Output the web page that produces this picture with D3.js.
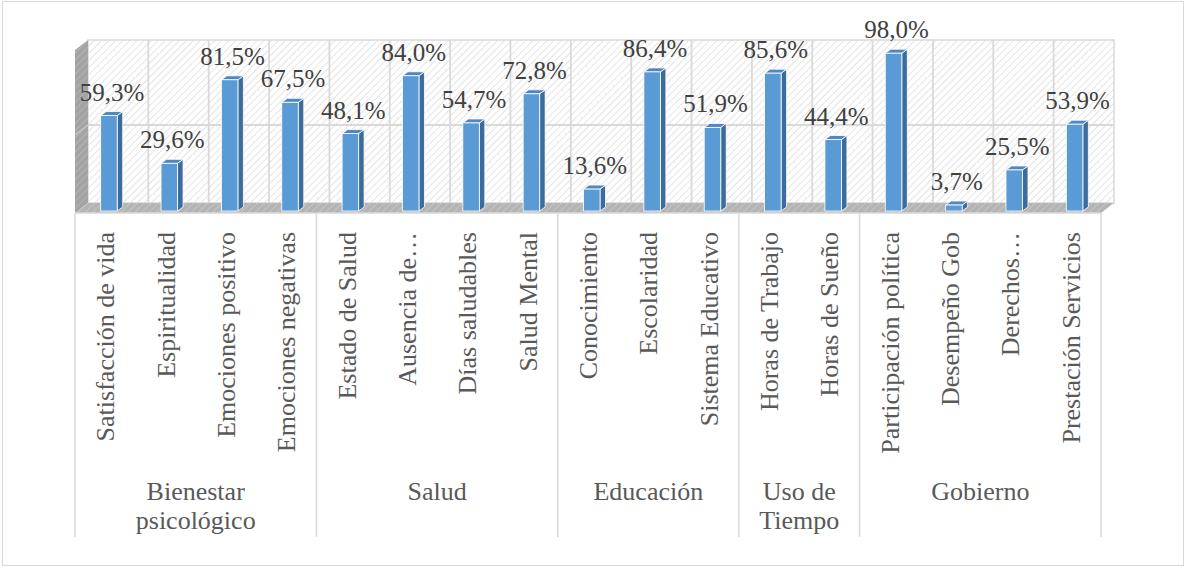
<!DOCTYPE html>
<html>
<head>
<meta charset="utf-8">
<script src="https://cdn.jsdelivr.net/npm/d3@7/dist/d3.min.js"></script>
<style>
  body { margin: 0; background: #fff; }
  svg { display: block; }
</style>
</head>
<body>
<div id="chart"></div>
<script>
// chart data
var categories = ['Satisfacción de vida', 'Espiritualidad', 'Emociones positivo', 'Emociones negativas',
  'Estado de Salud', 'Ausencia de…', 'Días saludables', 'Salud Mental',
  'Conocimiento', 'Escolaridad', 'Sistema Educativo',
  'Horas de Trabajo', 'Horas de Sueño',
  'Participación política', 'Desempeño Gob', 'Derechos…', 'Prestación Servicios'];
var values = [59.3, 29.6, 81.5, 67.5, 48.1, 84.0, 54.7, 72.8, 13.6, 86.4, 51.9, 85.6, 44.4, 98.0, 3.7, 25.5, 53.9];
var groupNames = [['Bienestar', 'psicológico'], ['Salud'], ['Educación'], ['Uso de', 'Tiempo'], ['Gobierno']];
var groupSizes = [4, 4, 3, 2, 4];
var gridTicks = [50];

var width = 1185, height = 566;
var left = 75, right = 1101,
    floorY = 213, zeroY = 211, topY = 50,
    depthX = 13, depthY = -10,
    labelBottom = 537;
var barOffset = 25.7, barWidth = 16.5, barDx = 5.5, barDy = -4;
var serif = "'Liberation Serif', 'Times New Roman', Tinos, serif";

var svg = d3.select('#chart').append('svg')
  .attr('width', width)
  .attr('height', height)
  .attr('font-family', serif)
  .style('font-family', serif);

var defs = svg.append('defs');
function hatch(id, bg, line) {
  var p = defs.append('pattern')
    .attr('id', id)
    .attr('patternUnits', 'userSpaceOnUse')
    .attr('width', 5).attr('height', 5)
    .attr('patternTransform', 'rotate(45)');
  p.append('rect').attr('width', 5).attr('height', 5).attr('fill', bg);
  p.append('line').attr('x1', 0).attr('y1', 0).attr('x2', 0).attr('y2', 5)
    .attr('stroke', line).attr('stroke-width', 1.6);
}
hatch('wallHatch', '#ffffff', '#dedede');
hatch('sideHatch', '#a3a3a3', '#b8b8b8');
hatch('floorHatch', '#b4b4b4', '#c8c8c8');

// outer border
svg.append('rect')
  .attr('x', 2.5).attr('y', 1.5)
  .attr('width', width - 4).attr('height', height - 2)
  .attr('fill', 'none').attr('stroke', '#d9d9d9');

var x = d3.scaleBand().domain(categories).range([left, right]);
var y = d3.scaleLinear().domain([0, 100]).range([zeroY, topY]);
// back wall scale (shifted by depth)
var yBack = d3.scaleLinear().domain([0, 100]).range([zeroY + depthY + 9, topY + depthY]);

// back wall
svg.append('rect')
  .attr('x', left + depthX).attr('y', topY + depthY)
  .attr('width', right - left).attr('height', floorY - topY)
  .attr('fill', 'url(#wallHatch)')
  .attr('stroke', '#d9d9d9').attr('stroke-width', 1.5);

var grid = svg.append('g').attr('class', 'grid')
  .attr('stroke', '#d9d9d9').attr('stroke-width', 1.8);
grid.selectAll('line.v')
  .data(categories.slice(1))
  .enter().append('line')
  .attr('class', 'v')
  .attr('x1', d => x(d) + depthX).attr('x2', d => x(d) + depthX)
  .attr('y1', topY + depthY).attr('y2', floorY + depthY);
grid.selectAll('line.h')
  .data(gridTicks)
  .enter().append('line')
  .attr('class', 'h')
  .attr('x1', left + depthX).attr('x2', right + depthX)
  .attr('y1', d => yBack(d)).attr('y2', d => yBack(d));

// side wall
svg.append('path')
  .attr('d', 'M' + left + ',' + topY + 'L' + (left + depthX) + ',' + (topY + depthY) +
    'L' + (left + depthX) + ',' + (floorY + depthY) + 'L' + left + ',' + floorY + 'Z')
  .attr('fill', 'url(#sideHatch)');
svg.selectAll('line.sg')
  .data(gridTicks)
  .enter().append('line')
  .attr('class', 'sg')
  .attr('x1', left).attr('x2', left + depthX)
  .attr('y1', d => yBack(d) - depthY).attr('y2', d => yBack(d))
  .attr('stroke', '#c4c4c4').attr('stroke-width', 1.5);

// floor
svg.append('path')
  .attr('d', 'M' + left + ',' + floorY + 'L' + (left + depthX) + ',' + (floorY + depthY) +
    'L' + (right + depthX) + ',' + (floorY + depthY) + 'L' + right + ',' + floorY + 'Z')
  .attr('fill', 'url(#floorHatch)');
svg.append('line')
  .attr('x1', left).attr('x2', right)
  .attr('y1', floorY).attr('y2', floorY)
  .attr('stroke', '#d9d9d9').attr('stroke-width', 1.5);

// bars
var bars = svg.append('g').attr('class', 'bars')
  .selectAll('g')
  .data(categories.map((c, i) => ({ cat: c, value: values[i] })))
  .enter().append('g');

bars.append('path')
  .attr('fill', '#3c6c9c')
  .attr('stroke', '#ffffff').attr('stroke-width', 0.8)
  .attr('d', d => {
    var x1 = x(d.cat) + barOffset + barWidth, t = y(d.value);
    return 'M' + x1 + ',' + t + 'L' + (x1 + barDx) + ',' + (t + barDy) +
      'L' + (x1 + barDx) + ',' + (zeroY + barDy) + 'L' + x1 + ',' + zeroY + 'Z';
  });
bars.append('path')
  .attr('fill', '#4f88c0')
  .attr('stroke', '#ffffff').attr('stroke-width', 0.8)
  .attr('d', d => {
    var x0 = x(d.cat) + barOffset, x1 = x0 + barWidth, t = y(d.value);
    return 'M' + x0 + ',' + t + 'L' + (x0 + barDx) + ',' + (t + barDy) +
      'L' + (x1 + barDx) + ',' + (t + barDy) + 'L' + x1 + ',' + t + 'Z';
  });
bars.append('rect')
  .attr('x', d => x(d.cat) + barOffset)
  .attr('y', d => y(d.value))
  .attr('width', barWidth)
  .attr('height', d => zeroY - y(d.value))
  .attr('fill', '#5b9bd5')
  .attr('stroke', '#ffffff').attr('stroke-width', 0.8);

// value labels
var fmt = v => v.toFixed(1).replace('.', ',') + '%';
bars.append('text')
  .attr('x', d => x(d.cat) + barOffset + barWidth / 2 + 3)
  .attr('y', d => y(d.value) - 15)
  .attr('text-anchor', 'middle')
  .attr('font-size', '25px')
  .attr('fill', '#404040')
  .text(d => fmt(d.value));

// category axis labels
svg.append('g').selectAll('text')
  .data(categories)
  .enter().append('text')
  .attr('transform', d => 'translate(' + (x(d) + x.bandwidth() / 2 + 9) + ',' + 232 + ') rotate(-90)')
  .attr('text-anchor', 'end')
  .attr('font-size', '26px')
  .attr('fill', '#595959')
  .text(d => d);

// group separators and labels
var bounds = [0];
groupSizes.forEach((n, i) => bounds.push(bounds[i] + n));
var groupData = groupNames.map((g, i) => ({
  lines: g,
  x0: x(categories[bounds[i]]),
  x1: bounds[i + 1] < categories.length ? x(categories[bounds[i + 1]]) : right
}));

svg.append('g').selectAll('line')
  .data(bounds)
  .enter().append('line')
  .attr('x1', b => b < categories.length ? x(categories[b]) : right)
  .attr('x2', b => b < categories.length ? x(categories[b]) : right)
  .attr('y1', floorY).attr('y2', labelBottom)
  .attr('stroke', '#d9d9d9').attr('stroke-width', 1.5);

var gl = svg.append('g').selectAll('text')
  .data(groupData)
  .enter().append('text')
  .attr('text-anchor', 'middle')
  .attr('font-size', '26px')
  .attr('fill', '#595959');
gl.selectAll('tspan')
  .data(d => d.lines.map(l => ({ line: l, cx: (d.x0 + d.x1) / 2 })))
  .enter().append('tspan')
  .attr('x', d => d.cx)
  .attr('y', (d, i) => 500 + i * 29)
  .text(d => d.line);
</script>
</body>
</html>
